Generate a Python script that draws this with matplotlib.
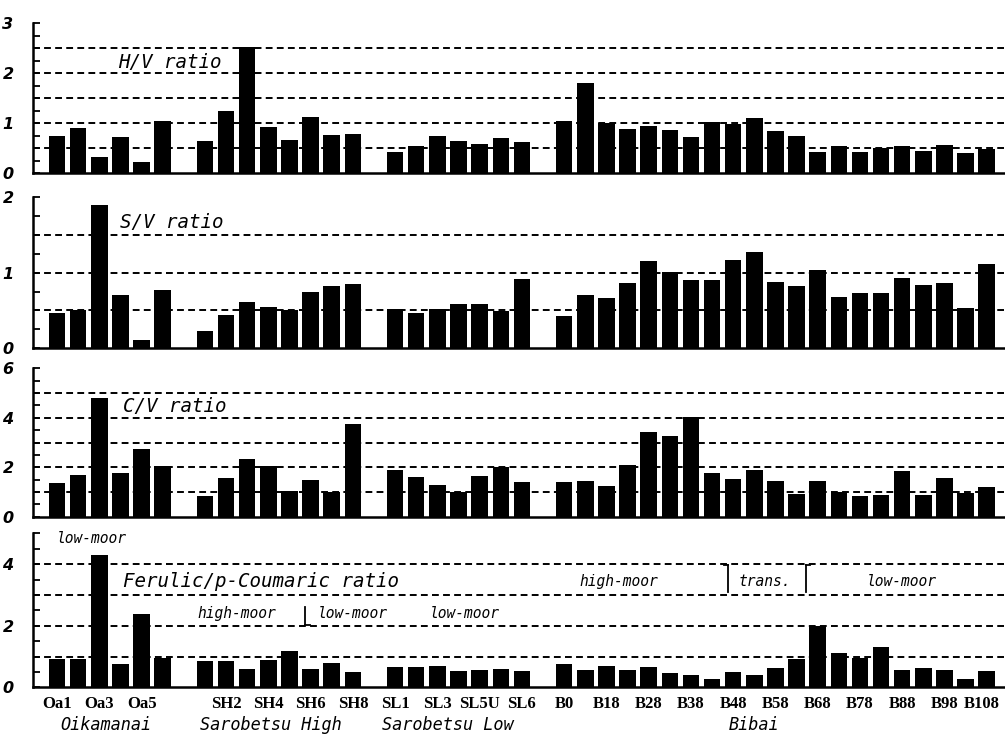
import matplotlib.pyplot as plt
from matplotlib.ticker import FixedLocator, MultipleLocator
from matplotlib.transforms import ScaledTranslation

# sample groups and the sites along the x axis
groups = ['Oikamanai', 'Sarobetsu High', 'Sarobetsu Low', 'Bibai']
group_sizes = [6, 8, 7, 21]
tick_labels = ['Oa1', '', 'Oa3', '', 'Oa5', '',
               '', 'SH2', '', 'SH4', '', 'SH6', '', 'SH8',
               'SL1', '', 'SL3', '', 'SL5U', '', 'SL6',
               'B0', '', 'B18', '', 'B28', '', 'B38', '', 'B48', '', 'B58',
               '', 'B68', '', 'B78', '', 'B88', '', 'B98', '', 'B108']

# lignin phenol ratios
hv_ratio = [0.75, 0.90, 0.33, 0.73, 0.22, 1.05,
            0.65, 1.25, 2.53, 0.92, 0.67, 1.13, 0.76, 0.78,
            0.43, 0.55, 0.74, 0.65, 0.59, 0.71, 0.63,
            1.05, 1.80, 1.00, 0.89, 0.94, 0.87, 0.72, 1.02, 0.99, 1.11, 0.85,
            0.75, 0.43, 0.55, 0.43, 0.50, 0.55, 0.44, 0.56, 0.40, 0.49]
sv_ratio = [0.46, 0.50, 1.90, 0.71, 0.10, 0.77,
            0.23, 0.44, 0.61, 0.55, 0.50, 0.75, 0.83, 0.85,
            0.52, 0.47, 0.52, 0.59, 0.58, 0.49, 0.91,
            0.43, 0.70, 0.67, 0.86, 1.16, 1.01, 0.90, 0.90, 1.17, 1.27, 0.87,
            0.83, 1.03, 0.68, 0.73, 0.73, 0.93, 0.84, 0.86, 0.53, 1.12]
cv_ratio = [1.36, 1.70, 4.79, 1.76, 2.75, 2.04,
            0.83, 1.56, 2.33, 2.04, 1.06, 1.47, 0.99, 3.77,
            1.89, 1.61, 1.30, 0.98, 1.66, 2.01, 1.40,
            1.40, 1.45, 1.23, 2.08, 3.41, 3.28, 4.04, 1.76, 1.53, 1.90, 1.45,
            0.92, 1.45, 0.99, 0.83, 0.87, 1.85, 0.88, 1.57, 0.96, 1.22]
fp_ratio = [0.92, 0.93, 4.31, 0.75, 2.37, 0.96,
            0.86, 0.86, 0.61, 0.90, 1.18, 0.61, 0.79, 0.51,
            0.65, 0.67, 0.68, 0.53, 0.55, 0.58, 0.53,
            0.75, 0.57, 0.69, 0.57, 0.65, 0.48, 0.40, 0.28, 0.51, 0.39, 0.64,
            0.92, 1.99, 1.11, 0.96, 1.32, 0.57, 0.64, 0.57, 0.27, 0.53]

# one empty slot between groups
xpos = []
start = 0
for n in group_sizes:
    xpos.extend(range(start, start + n))
    start += n + 1

mono = 'DejaVu Sans Mono'

fig = plt.figure(figsize=(10.05, 7.37), dpi=100)
W, H = 1005.0, 737.0

# (bottom px, height px, ymax, labelled ticks, minor step, dashed lines, values, title, title pos)
panels = [
    (564.0, 150.0, 3, [0, 1, 2, 3], 0.25, [0.5, 1, 1.5, 2, 2.5], hv_ratio,
     'H/V ratio', (2.9, 2.22)),
    (389.0, 150.6, 2, [0, 1, 2], 0.25, [0.5, 1, 1.5], sv_ratio,
     'S/V ratio', (3.0, 1.67)),
    (220.3, 148.3, 6, [0, 2, 4, 6], 0.5, [1, 2, 3, 4, 5], cv_ratio,
     'C/V ratio', (3.1, 4.46)),
    (49.7, 154.0, 5, [0, 2, 4], 0.5, [1, 2, 3, 4], fp_ratio,
     'Ferulic/p-Coumaric ratio', (3.1, 3.42)),
]

axes = []
for bottom, height, ymax, majors, step, grid, vals, title, tpos in panels:
    ax = fig.add_axes([33 / W, bottom / H, 971 / W, height / H])
    ax.bar(xpos, vals, width=0.78, color='black', zorder=2)
    for g in grid:
        ax.axhline(g, color='black', lw=1.4, ls=(0, (3.5, 2.2)), zorder=1)
    ax.set_xlim(-1.14, 44.82)
    ax.set_ylim(0, ymax)
    ax.yaxis.set_major_locator(FixedLocator(majors))
    ax.yaxis.set_minor_locator(MultipleLocator(step))
    ax.tick_params(axis='y', which='both', direction='in', length=5, width=1.3, pad=14)
    ax.set_yticklabels([str(m) for m in majors], fontsize=11.5, fontweight='bold',
                       style='italic', family='DejaVu Sans')
    ax.set_xticks([])
    for s in ['top', 'right']:
        ax.spines[s].set_visible(False)
    for s in ['left', 'bottom']:
        ax.spines[s].set_linewidth(1.8)
    ax.text(tpos[0], tpos[1], title, fontsize=13.8, family=mono, style='oblique',
            ha='left', va='center')
    axes.append(ax)

ax4 = axes[-1]
ax4.set_xticks(xpos)
ax4.set_xticklabels(tick_labels, fontsize=12, fontweight='bold', family='Liberation Serif')
ax4.tick_params(axis='x', length=0, pad=6)
# pull the last label in from the figure edge
last = ax4.get_xticklabels()[-1]
last.set_transform(last.get_transform() + ScaledTranslation(-5 / 100, 0, fig.dpi_scale_trans))

group_x = [2.3, 10.1, 18.5, 33.0]
for gx, name in zip(group_x, groups):
    ax4.text(gx, -0.245, name, transform=ax4.get_xaxis_transform(), fontsize=12.2,
             family=mono, style='oblique', ha='center', va='center')

# peat type notes
small = dict(fontsize=10.5, family=mono, style='oblique', ha='left', va='center')
ax4.text(0.0, 4.84, 'low-moor', **small)
ax4.text(6.62, 2.41, 'high-moor', **small)
ax4.text(12.35, 2.41, 'low-moor', **small)
ax4.text(17.65, 2.41, 'low-moor', **small)
ax4.text(24.7, 3.42, 'high-moor', **small)
ax4.text(32.27, 3.42, 'trans.', **small)
ax4.text(38.33, 3.42, 'low-moor', **small)
ax4.plot([11.74, 11.74], [2.03, 2.62], color='black', lw=1.3)
ax4.plot([11.74, 11.95], [2.03, 2.03], color='black', lw=1.3)
ax4.plot([31.74, 31.74], [3.09, 3.97], color='black', lw=1.3)
ax4.plot([31.55, 31.74], [3.97, 3.97], color='black', lw=1.3)
ax4.plot([35.45, 35.45], [3.09, 3.97], color='black', lw=1.3)
ax4.plot([35.45, 35.64], [3.97, 3.97], color='black', lw=1.3)

fig.savefig('out.png', dpi=100)
